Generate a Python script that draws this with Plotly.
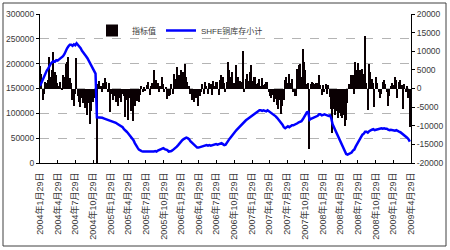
import datetime as dt
import plotly.graph_objects as go

# ---------------- data ----------------
start_date = dt.date(2004, 1, 29)
n_weeks = 274
week_dates = [start_date + dt.timedelta(days=7 * i) for i in range(n_weeks)]

# weekly change (right axis) - "指标值"
change_values = [
    6000, 4000, -3200, -1500, 1700, 1500, 2200, 8500, 3000, 5000,
    9800, 4500, 3500, 1500, 800, 1800, -500, 3500, 3000, 6500,
    7100, 8400, 2800, 1500, -3000, -4600, -1500, 8100, -2000, -3500,
    -5000, -2500, -4000, -5200, -3000, -7000, -4000, -9500, -6000, -3700,
    -2500, -1500, -22000, 1200, 2000, 800, -1000, 1500, 2700, 1800,
    -1000, 1500, -6400, -1500, -3000, -2000, -3700, -1500, -4600, -2500,
    -3700, -1500, -2000, -7600, -3000, -8500, -2500, -6000, -5000, -8600,
    -4600, -2500, -3300, -3700, -1800, 800, -1000, 500, -800, 1000,
    1700, -1800, 700, 1500, 4900, 1000, 2200, 1500, -1000, 800,
    3000, 1200, -1000, 500, -2800, -2000, -1800, 1200, -1500, 4000,
    2500, 5800, 3500, 3500, 4900, 2000, 4300, 6600, 3000, 1800,
    800, -1500, -3200, -2000, -3700, -2500, -1200, -4600, -2000, -1000,
    1200, -1500, 1700, 800, -1400, 1500, 1300, -1800, 2000, 800,
    1700, 1800, -1800, 2200, 3500, 3000, 1500, -1000, 1700, 7100,
    4900, 3000, 4500, 1500, 1000, 6200, 3000, 1500, 2000, 1800,
    10000, -1000, 2500, 4000, 2000, 4400, 6400, 2000, 3000, 3000,
    1200, 1500, 2500, 700, 2700, 1000, 1200, 1800, 1700, -1000,
    -2000, -2500, -1800, -3700, -2800, -4500, -5500, -3000, -6800, -4600,
    -3200, 2200, 3000, 1500, 4000, 1500, 2500, -1000, -2000, -2000,
    5300, 6200, 6500, 3000, 10700, 7000, 4900, 1200, 1500, -16300,
    1200, 1700, 1500, 1300, 1500, 1500, 3500, 1000, -1800, 900,
    -1000, 1300, -1400, 1000, -2300, -5500, -12000, -5500, -7000, -6000,
    -8000, -6500, -7500, -8000, -7000, -10000, -8500, -4000, 1200, 800,
    3500, 3500, -1500, 7100, 5000, 6800, 4900, 3500, 5300, 4000,
    14000, 1500, -5900, 6700, 4500, 2500, 1500, -5000, 3000, 1500,
    -1000, -2500, -1500, 1800, 2200, 1300, -1000, -4600, -2000, 800,
    1500, 1000, 3000, 2200, -2500, 1800, 2200, 1000, -5500, 1200,
    -1000, 800, -2500, -10400,
]

# SHFE copper stock (left axis)
stock_values = [
    155000, 162000, 168000, 176000, 180000, 186000, 190000, 196000, 200000, 203000,
    205000, 204000, 207000, 206000, 208000, 211000, 212000, 215000, 219000, 226000,
    231000, 235000, 238000, 238000, 236000, 239000, 237000, 241000, 238000, 234000,
    231000, 226000, 223000, 219000, 215000, 211000, 206000, 201000, 197000, 193000,
    186000, 180000, 92000, 92000, 91000, 92000, 91000, 90000, 89000, 88000,
    87000, 87000, 86000, 85000, 84000, 83000, 81000, 79000, 77000, 75000,
    74000, 72000, 68000, 66000, 63000, 60000, 57000, 53000, 50000, 46000,
    40000, 34000, 31000, 27000, 25000, 24000, 23000, 23000, 22000, 22000,
    22000, 23000, 22000, 23000, 23000, 24000, 23000, 25000, 26000, 27000,
    29000, 30000, 28000, 27000, 26000, 23000, 23000, 24000, 26000, 28000,
    31000, 33000, 36000, 40000, 42000, 46000, 48000, 50000, 51000, 50000,
    48000, 44000, 41000, 38000, 35000, 33000, 31000, 31000, 32000, 33000,
    33000, 34000, 35000, 36000, 35000, 36000, 35000, 36000, 37000, 37000,
    38000, 37000, 38000, 39000, 40000, 38000, 36000, 37000, 40000, 45000,
    49000, 53000, 57000, 61000, 63000, 66000, 69000, 73000, 75000, 78000,
    80000, 83000, 86000, 88000, 90000, 92000, 94000, 96000, 99000, 101000,
    103000, 104000, 106000, 106000, 105000, 106000, 105000, 104000, 106000, 104000,
    102000, 100000, 99000, 97000, 94000, 91000, 88000, 85000, 81000, 77000,
    72000, 70000, 72000, 74000, 72000, 75000, 76000, 76000, 77000, 78000,
    80000, 82000, 83000, 84000, 88000, 93000, 98000, 102000, 103000, 87000,
    89000, 90000, 92000, 93000, 94000, 95000, 98000, 98000, 96000, 97000,
    98000, 97000, 96000, 95000, 96000, 90000, 78000, 72000, 66000, 60000,
    52000, 46000, 40000, 33000, 27000, 22000, 18000, 17000, 18000, 19000,
    21000, 25000, 27000, 33000, 38000, 45000, 49000, 54000, 57000, 59000,
    63000, 63000, 61000, 64000, 66000, 67000, 68000, 66000, 67000, 68000,
    68000, 69000, 70000, 69000, 70000, 69000, 69000, 67000, 66000, 67000,
    66000, 66000, 65000, 66000, 64000, 63000, 62000, 60000, 57000, 56000,
    53000, 51000, 48000, 43000,
]

x_tick_dates = [
    "2004-01-29", "2004-04-29", "2004-07-29", "2004-10-29",
    "2005-01-29", "2005-04-29", "2005-07-29", "2005-10-29",
    "2006-01-29", "2006-04-29", "2006-07-29", "2006-10-29",
    "2007-01-29", "2007-04-29", "2007-07-29", "2007-10-29",
    "2008-01-29", "2008-04-29", "2008-07-29", "2008-10-29",
    "2009-01-29", "2009-04-29",
]
x_tick_labels = [
    "2004年1月29日", "2004年4月29日", "2004年7月29日", "2004年10月29日",
    "2005年1月29日", "2005年4月29日", "2005年7月29日", "2005年10月29日",
    "2006年1月29日", "2006年4月29日", "2006年7月29日", "2006年10月29日",
    "2007年1月29日", "2007年4月29日", "2007年7月29日", "2007年10月29日",
    "2008年1月29日", "2008年4月29日", "2008年7月29日", "2008年10月29日",
    "2009年1月29日", "2009年4月29日",
]
left_ticks = [0, 50000, 100000, 150000, 200000, 250000, 300000]
left_labels = ["0", "50000", "100000", "150000", "200000", "250000", "300000"]
right_ticks = [-20000, -15000, -10000, -5000, 0, 5000, 10000, 15000, 20000]
right_labels = ["-20000", "-15000", "-10000", "-5000", "0", "5000", "10000", "15000", "20000"]

# ---------------- figure ----------------
FONT = "Liberation Sans, Arial, Noto Sans CJK SC, sans-serif"
TXT = "#3a3a3a"

fig = go.Figure()
fig.add_trace(go.Bar(
    x=week_dates, y=change_values, name="指标值",
    marker=dict(color="#0a0003", line=dict(width=0)),
    yaxis="y",
))
fig.add_trace(go.Scatter(
    x=week_dates, y=stock_values, name="SHFE铜库存小计",
    mode="lines", line=dict(color="#0000ff", width=2.5),
    yaxis="y2",
))

L, R, T, B = 40, 39, 14, 87
W, H = 450, 250
pw, ph = W - L - R, H - T - B

def px_x(x):
    return (x - L) / pw

def px_y(y):
    return (H - B - y) / ph

fig.update_layout(
    width=W, height=H,
    margin=dict(l=L, r=R, t=T, b=B, pad=0, autoexpand=False),
    paper_bgcolor="white", plot_bgcolor="white",
    bargap=0,
    showlegend=True,
    legend=dict(
        orientation="h", x=px_x(92), y=px_y(16), xanchor="left", yanchor="top",
        bgcolor="rgba(0,0,0,0)", font=dict(family=FONT, size=8, color=TXT),
        itemwidth=30, tracegroupgap=0,
    ),
    font=dict(family=FONT, size=8.5, color=TXT),
    xaxis=dict(
        type="date", automargin=False,
        range=["2004-01-29", "2009-04-29"],
        tickmode="array", tickvals=x_tick_dates, ticktext=x_tick_labels,
        tickangle=-90,
        ticks="inside", ticklen=3, tickcolor="black",
        ticklabelstandoff=5,
        showline=True, linecolor="black", linewidth=1,
        showgrid=False, zeroline=False,
        tickfont=dict(family=FONT, size=9, color=TXT),
    ),
    yaxis=dict(
        side="right", range=[-20000, 20000], automargin=False,
        tickmode="array", tickvals=right_ticks, ticktext=right_labels,
        ticks="outside", ticklen=3, tickcolor="black",
        showline=True, linecolor="black", linewidth=1,
        showgrid=False, zeroline=False,
        tickfont=dict(family=FONT, size=8.5, color=TXT),
    ),
    yaxis2=dict(
        side="left", overlaying="y", range=[0, 300000], automargin=False,
        tickmode="array", tickvals=left_ticks, ticktext=left_labels,
        ticks="outside", ticklen=3, tickcolor="black",
        showline=True, linecolor="black", linewidth=1,
        showgrid=True, gridcolor="#b4b4b4", griddash="dash", gridwidth=1,
        zeroline=False,
        tickfont=dict(family=FONT, size=8.5, color=TXT),
    ),
    shapes=[dict(
        type="rect", xref="paper", yref="paper",
        x0=px_x(3), x1=px_x(446), y0=px_y(246), y1=px_y(3),
        line=dict(color="#404040", width=1), fillcolor="rgba(0,0,0,0)",
        layer="below",
    )],
)

fig.write_html("out.html")
